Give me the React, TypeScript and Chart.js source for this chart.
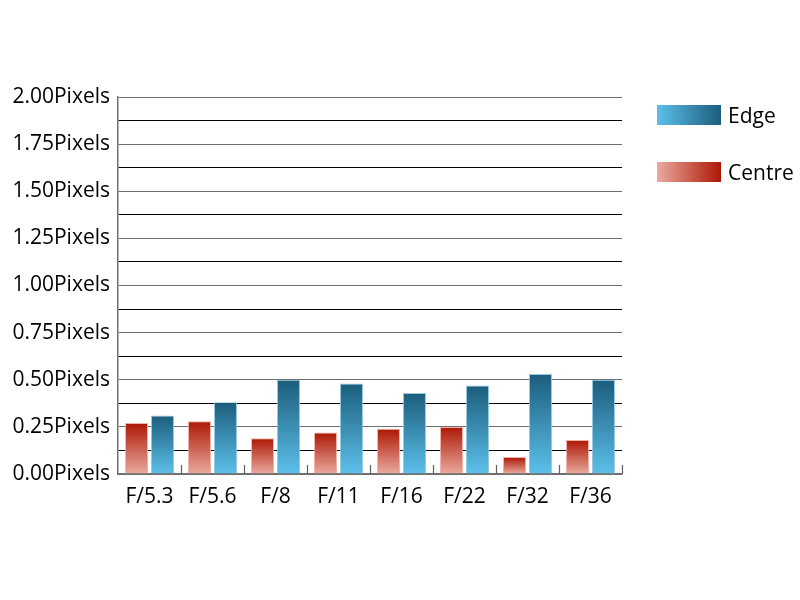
import React, { useEffect, useRef } from 'react';
import { Chart, registerables } from 'chart.js';
Chart.register(...registerables);

const categories = ['F/5.3', 'F/5.6', 'F/8', 'F/11', 'F/16', 'F/22', 'F/32', 'F/36'];
const centreValues = [0.27, 0.28, 0.19, 0.22, 0.24, 0.25, 0.09, 0.18];
const edgeValues = [0.31, 0.38, 0.5, 0.48, 0.43, 0.47, 0.53, 0.5];
const seriesNames = ['Centre', 'Edge'];
const yMin = 0;
const yMax = 2;
const yStep = 0.125;
const unit = 'Pixels';

const FONT = '"Open Sans", sans-serif';
const centreTop = '#ad1704';
const centreBottom = '#eaaa9f';
const edgeTop = '#1b5d7c';
const edgeBottom = '#5dc0ea';

function barGradient(top: string, bottom: string) {
  return (ctx: any) => {
    const chart = ctx.chart;
    const { chartArea, scales } = chart;
    if (!chartArea || !scales.y || ctx.type !== 'data') return top;
    const v = ctx.raw as number;
    const y0 = scales.y.getPixelForValue(v);
    const y1 = scales.y.getPixelForValue(0);
    if (!isFinite(y0) || !isFinite(y1) || y1 - y0 < 1) return top;
    const g = chart.ctx.createLinearGradient(0, y0, 0, y1);
    g.addColorStop(0, top);
    g.addColorStop(1, bottom);
    return g;
  };
}

const boundaryTicks = {
  id: 'boundaryTicks',
  afterDatasetsDraw(chart: any) {
    const x = chart.scales.x;
    const ctx = chart.ctx;
    const bottom = chart.chartArea.bottom;
    ctx.save();
    ctx.strokeStyle = '#606060';
    ctx.lineWidth = 1.2;
    for (let i = 0; i < categories.length; i++) {
      const px = Math.round(x.getPixelForValue(i + 0.5)) + 0.5;
      ctx.beginPath();
      ctx.moveTo(px, bottom);
      ctx.lineTo(px, bottom - 9);
      ctx.stroke();
    }
    ctx.restore();
  },
};

function isMajor(v: number) {
  return Math.abs(v * 4 - Math.round(v * 4)) < 1e-6;
}

export default function App() {
  const ref = useRef<HTMLCanvasElement>(null);
  useEffect(() => {
    document.body.style.margin = '0';
    const chart = new Chart(ref.current!, {
      type: 'bar',
      data: {
        labels: categories,
        datasets: [
          {
            label: seriesNames[0],
            data: centreValues,
            backgroundColor: barGradient(centreTop, centreBottom),
            borderColor: 'rgba(240,170,160,0.9)',
            borderWidth: 1,
            categoryPercentage: 0.825,
            barPercentage: 0.885,
          },
          {
            label: seriesNames[1],
            data: edgeValues,
            backgroundColor: barGradient(edgeTop, edgeBottom),
            borderColor: 'rgba(140,195,220,0.9)',
            borderWidth: 1,
            categoryPercentage: 0.825,
            barPercentage: 0.885,
          },
        ],
      },
      options: {
        animation: false,
        responsive: false,
        maintainAspectRatio: false,
        layout: { padding: { top: 97, right: 178, bottom: 0, left: 0 } },
        plugins: { legend: { display: false }, tooltip: { enabled: false } },
        scales: {
          x: {
            grid: { display: false },
            border: { display: true, color: '#707070', width: 1.5 },
            ticks: { color: '#000', font: { family: FONT, size: 21 }, padding: 2, maxRotation: 0 },
            afterFit: (s: any) => { s.height = 126; },
          },
          y: {
            min: yMin,
            max: yMax,
            grid: {
              drawTicks: false,
              color: (c: any) => (isMajor(c.tick.value) ? '#6e6e6e' : '#000000'),
              lineWidth: 1,
            },
            border: { display: true, color: '#707070', width: 1.5 },
            ticks: {
              stepSize: yStep,
              autoSkip: false,
              color: '#000',
              padding: 8,
              font: { family: FONT, size: 21 },
              callback: (v: any) => (isMajor(Number(v)) ? Number(v).toFixed(2) + unit : ''),
            },
            afterFit: (s: any) => { s.width = 118; },
          },
        },
      },
      plugins: [boundaryTicks],
    } as any);
    return () => chart.destroy();
  }, []);

  const legendItems = [
    { name: seriesNames[1], from: edgeBottom, to: edgeTop, top: 105 },
    { name: seriesNames[0], from: centreBottom, to: centreTop, top: 162 },
  ];

  return (
    <div style={{ position: 'relative', width: 800, height: 600 }}>
      <canvas ref={ref} width={800} height={600} style={{ display: 'block' }} />
      {legendItems.map((it) => (
        <div key={it.name}>
          <div
            style={{
              position: 'absolute',
              left: 657,
              top: it.top,
              width: 64,
              height: 20,
              background: `linear-gradient(to right, ${it.from}, ${it.to})`,
            }}
          />
          <div
            style={{
              position: 'absolute',
              left: 728,
              top: it.top - 6,
              height: 32,
              lineHeight: '32px',
              fontFamily: FONT,
              fontSize: 21,
              color: '#000',
              whiteSpace: 'nowrap',
            }}
          >
            {it.name}
          </div>
        </div>
      ))}
    </div>
  );
}
